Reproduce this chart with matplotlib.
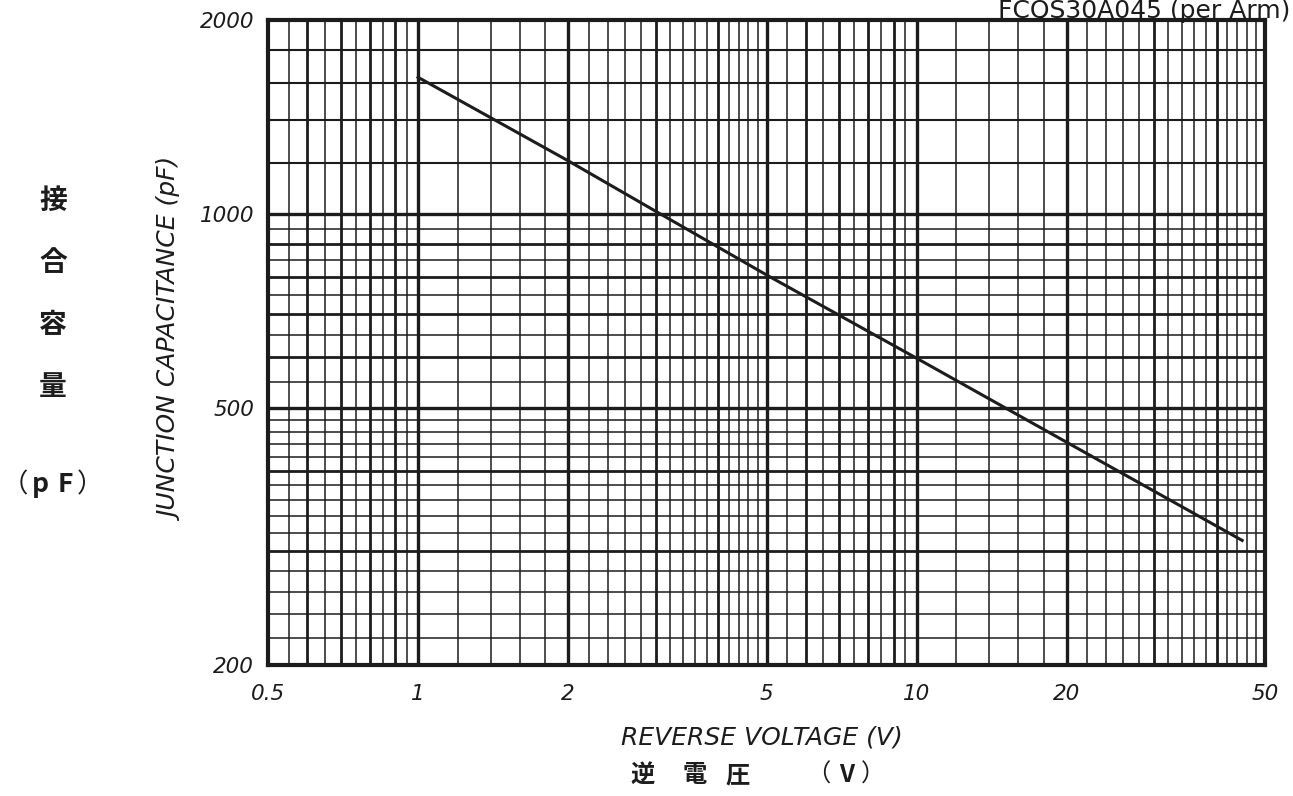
import numpy as np
import matplotlib
matplotlib.use("Agg")
import matplotlib.pyplot as plt

# curve (per arm)
voltage = [1, 2, 3, 5, 10, 20, 45]
capacitance = [1630, 1210, 1010, 805, 598, 443, 312]

x_ticks = [0.5, 1, 2, 5, 10, 20, 50]
x_labels = ["0.5", "1", "2", "5", "10", "20", "50"]
y_ticks = [200, 500, 1000, 2000]
y_labels = ["200", "500", "1000", "2000"]

# grid of the log paper
x_heavy = [0.6, 0.7, 0.8, 0.9, 3, 4, 6, 7, 8, 9, 30, 40]
x_light = ([0.55, 0.65, 0.75, 0.85, 0.95, 1.2, 1.4, 1.6, 1.8]
           + [v for v in np.round(np.arange(2.2, 5.0, 0.2), 1) if v not in (3, 4)]
           + [5.5, 6.5, 7.5, 8.5, 9.5, 12, 14, 16, 18]
           + [v for v in range(22, 50, 2) if v not in (30, 40)])
y_heavy = [300, 400, 600, 700, 800, 900]
y_light = ([v for v in range(220, 500, 20) if v not in (300, 400)]
           + [550, 650, 750, 850, 950])
y_mid = [1200, 1400, 1600, 1800]

ink = "#1c1c1c"

fig = plt.figure(figsize=(12.93, 7.96), dpi=100)
ax = fig.add_axes([268 / 1293, 1 - 665 / 796, (1265 - 268) / 1293, (665 - 20) / 796])
ax.set_xscale("log")
ax.set_yscale("log")
ax.set_xlim(0.5, 50)
ax.set_ylim(200, 2000)

for v in x_light:
    ax.axvline(v, color=ink, lw=1.1, zorder=1)
for v in x_heavy:
    ax.axvline(v, color=ink, lw=2.0, zorder=1)
for v in x_ticks[1:-1]:
    ax.axvline(v, color=ink, lw=2.4, zorder=1)
for v in y_light:
    ax.axhline(v, color=ink, lw=1.1, zorder=1)
for v in y_mid:
    ax.axhline(v, color=ink, lw=1.5, zorder=1)
for v in y_heavy:
    ax.axhline(v, color=ink, lw=2.0, zorder=1)
for v in y_ticks[1:-1]:
    ax.axhline(v, color=ink, lw=2.4, zorder=1)

ax.plot(voltage, capacitance, color=ink, lw=2.2, zorder=3)

ax.set_xticks(x_ticks)
ax.set_xticklabels(x_labels)
ax.set_yticks(y_ticks)
ax.set_yticklabels(y_labels)
ax.minorticks_off()
ax.tick_params(axis="both", length=0, labelsize=15.5, colors=ink)
ax.tick_params(axis="x", pad=14)
ax.tick_params(axis="y", pad=10)
for lab in ax.get_xticklabels() + ax.get_yticklabels():
    lab.set_style("italic")

for s in ax.spines.values():
    s.set_linewidth(3)
    s.set_color(ink)

fig.text(762 / 1293, 1 - 738 / 796, "REVERSE VOLTAGE (V)", fontsize=18, style="italic",
         ha="center", va="center", color=ink)
fig.text(172 / 1293, 1 - 340 / 796, "JUNCTION CAPACITANCE (pF)", fontsize=18, style="italic",
         rotation=90, ha="center", va="center", color=ink)
fig.text(1290 / 1293, 1 - 18 / 796, "FCQS30A045 (per Arm)", fontsize=18,
         ha="right", va="baseline", color=ink)

jp = ["Noto Sans CJK JP", "DejaVu Sans"]
for ch, yy in zip(["接", "合", "容", "量"], [201, 263, 325, 387]):
    fig.text(53 / 1293, 1 - yy / 796, ch, fontsize=20, fontweight="bold", family=jp,
             ha="center", va="center", color=ink)
for ch, xx in zip(["（", "p", "F", "）"], [15, 40, 65, 90]):
    fig.text(xx / 1293, 1 - 485 / 796, ch, fontsize=19,
             fontweight="normal" if ch in "（）" else "bold", family=jp,
             ha="center", va="center", color=ink)
for ch, xx in zip(["逆", "電", "圧", "（", "V", "）"], [643, 695, 738, 818, 847, 873]):
    fig.text(xx / 1293, 1 - 775 / 796, ch, fontsize=17.5,
             fontweight="normal" if ch in "（）" else "bold", family=jp,
             ha="center", va="center", color=ink)

fig.savefig("out.png", dpi=100)
